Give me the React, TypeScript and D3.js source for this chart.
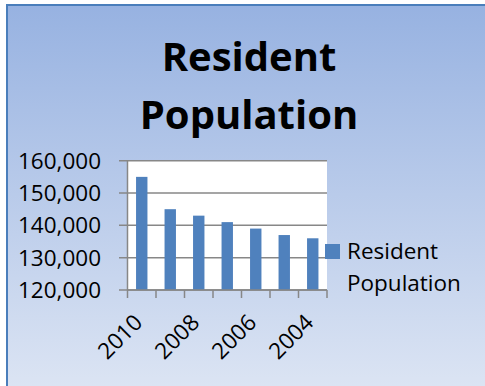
import React from "react";
import * as d3 from "d3";

const years = ["2010", "2009", "2008", "2007", "2006", "2005", "2004"];
const population = [155000, 145000, 143000, 141000, 139000, 137000, 136000];
const yTicks = [120000, 130000, 140000, 150000, 160000];
const shownYearLabels = ["2010", "2008", "2006", "2004"];
const titleLines = ["Resident", "Population"];
const legendLines = ["Resident", "Population"];

const W = 485;
const H = 386;
const FONT = "'Open Sans', 'DejaVu Sans', sans-serif";

export default function App() {
  const plotLeft = 127.5;
  const plotRight = 327;
  const plotTop = 160.7;
  const plotBottom = 290;

  const x = d3
    .scaleBand<string>()
    .domain(years)
    .range([plotLeft, plotRight])
    .paddingInner(0.6)
    .paddingOuter(0.3);
  const y = d3.scaleLinear().domain([120000, 160000]).range([plotBottom, plotTop]);
  const fmt = d3.format(",");
  const step = x.step();
  const boundaries = d3.range(years.length + 1).map((i) => plotLeft + i * step);

  const axisColor = "#878787";

  return (
    <svg
      width={W}
      height={H}
      style={{ position: "absolute", left: 0, top: 0, display: "block" }}
    >
      <defs>
        <linearGradient id="bg" x1="0" y1="0" x2="0" y2="1">
          <stop offset="0" stopColor="#97b2e1" />
          <stop offset="1" stopColor="#dee6f4" />
        </linearGradient>
      </defs>
      <rect x={0} y={0} width={W} height={H} fill="#ffffff" />
      <rect x={7} y={5} width={W + 10} height={H + 10} fill="url(#bg)" stroke="#4a7ebb" strokeWidth={2} />

      {titleLines.map((t, i) => (
        <text
          key={t}
          x={249}
          y={70.7 + i * 58.3}
          textAnchor="middle"
          fontFamily={FONT}
          fontWeight="bold"
          fontSize={40}
          fill="#000"
        >
          {t}
        </text>
      ))}

      <rect x={plotLeft} y={plotTop} width={plotRight - plotLeft} height={plotBottom - plotTop} fill="#ffffff" />

      {yTicks.map((v) => (
        <g key={v}>
          <line x1={119} x2={plotRight} y1={y(v)} y2={y(v)} stroke={axisColor} strokeWidth={1.5} />
          <text
            x={101}
            y={y(v) + 8}
            textAnchor="end"
            fontFamily={FONT}
            fontSize={22.5}
            fill="#000"
          >
            {fmt(v)}
          </text>
        </g>
      ))}

      {years.map((yr, i) => (
        <rect
          key={yr}
          x={x(yr)}
          y={y(population[i])}
          width={x.bandwidth()}
          height={plotBottom - y(population[i])}
          fill="#4f81bd"
        />
      ))}

      <line x1={plotLeft} x2={plotLeft} y1={plotTop} y2={plotBottom} stroke={axisColor} strokeWidth={1.5} />
      <line x1={plotLeft} x2={plotRight} y1={plotBottom} y2={plotBottom} stroke={axisColor} strokeWidth={1.5} />
      {boundaries.map((bx, i) => (
        <line key={i} x1={bx} x2={bx} y1={plotBottom} y2={298} stroke={axisColor} strokeWidth={1.5} />
      ))}

      {shownYearLabels.map((yr) => {
        const cx = (x(yr) as number) + x.bandwidth() / 2 + 2;
        const cy = 324;
        return (
          <text
            key={yr}
            x={cx}
            y={cy}
            textAnchor="end"
            transform={`rotate(-45 ${cx} ${cy})`}
            fontFamily={FONT}
            fontSize={22.5}
            fill="#000"
          >
            {yr}
          </text>
        );
      })}

      <rect x={325} y={244} width={15} height={15} fill="#4f81bd" />
      {legendLines.map((t, i) => (
        <text
          key={t}
          x={347}
          y={259 + i * 31.7}
          fontFamily={FONT}
          fontSize={22.5}
          fill="#000"
        >
          {t}
        </text>
      ))}
    </svg>
  );
}
